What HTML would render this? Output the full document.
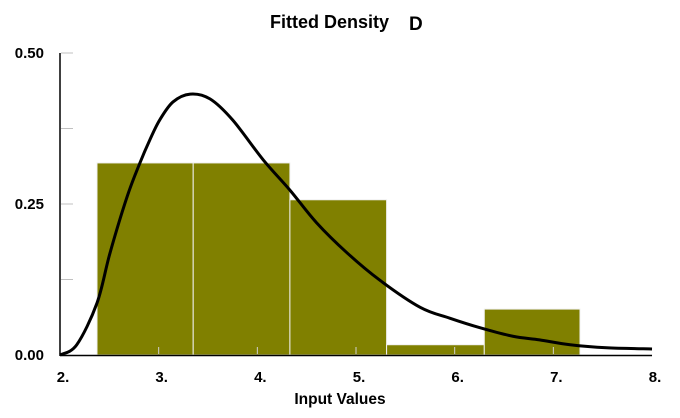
<!DOCTYPE html>
<html><head><meta charset="utf-8"><style>
body{margin:0;background:#fff;}
svg{display:block;font-family:"Liberation Sans",Arial,sans-serif;font-weight:bold;}
</style></head><body>
<svg id="chart" width="680" height="418" viewBox="0 0 680 418">
<text x="270" y="28" font-size="18">Fitted Density</text>
<text x="409" y="30" font-size="19">D</text>
<g id="bars"></g>
<g id="axes"></g>
<path id="curve" fill="none" stroke="#000" stroke-width="3" stroke-linejoin="round"></path>
<text x="340" y="404" text-anchor="middle" font-size="15.5">Input Values</text>
</svg>
<script>
const binEdges=[2.375,3.35,4.33,5.31,6.30,7.27];
const binValues=[0.318,0.318,0.257,0.017,0.076];
const curveX=[2.0,2.17,2.375,2.507,2.68,2.81,2.91,3.01,3.145,3.32,3.52,3.75,4.06,4.33,4.60,4.91,5.24,5.65,5.95,6.26,6.59,6.86,7.17,7.54,8.0];
const curveY=[0,0.017,0.086,0.169,0.262,0.318,0.356,0.389,0.419,0.432,0.424,0.389,0.323,0.273,0.219,0.169,0.124,0.079,0.061,0.045,0.031,0.025,0.017,0.012,0.010];
const xTicks=[2,3,4,5,6,7,8];
const xTickLabels=["2.","3.","4.","5.","6.","7.","8."];
const yTicks=[0,0.25,0.5];
const yTickLabels=["0.00","0.25","0.50"];
const yGridTicks=[0.125,0.25,0.375,0.5];
const NS="http://www.w3.org/2000/svg";
const sx=v=>60+(v-2)*98.67;
const sy=v=>355-v*604;
function mk(tag,attrs,parent){const e=document.createElementNS(NS,tag);for(const k in attrs)e.setAttribute(k,attrs[k]);parent.appendChild(e);return e;}
const bars=document.getElementById('bars');
binValues.forEach((v,i)=>{
 const r=mk('rect',{x:sx(binEdges[i]),y:sy(v),width:sx(binEdges[i+1])-sx(binEdges[i]),height:sy(0)-sy(v),fill:'#808000',stroke:'#f0f0f0','stroke-width':1},bars);
 
 
});
const ax=document.getElementById('axes');
yGridTicks.forEach(v=>mk('line',{x1:61,y1:sy(v),x2:73,y2:sy(v),stroke:'#c0c0c0'},ax));
xTicks.slice(1,-1).forEach(v=>mk('line',{x1:sx(v),y1:354,x2:sx(v),y2:347,stroke:'#d0d0d0'},ax));
const yl=mk('line',{x1:60,y1:sy(0.5),x2:60,y2:356,stroke:'#000','stroke-width':1.5},ax);


const xl=mk('line',{x1:60,y1:355.5,x2:sx(8),y2:355.5,stroke:'#000','stroke-width':1.5},ax);


yTicks.forEach((v,i)=>{
 const t=mk('text',{x:44,y:sy(v)+5,'text-anchor':'end','font-size':15},ax);
 t.textContent=yTickLabels[i];
 
 
});
xTicks.forEach((v,i)=>{
 const t=mk('text',{x:sx(v)+3,y:382,'text-anchor':'middle','font-size':15},ax);
 t.textContent=xTickLabels[i];
 
 
});
const P=curveX.map((x,i)=>[sx(x),sy(curveY[i])]);
let d='M'+P[0][0]+','+P[0][1];
for(let i=0;i<P.length-1;i++){
 const p0=P[Math.max(0,i-1)],p1=P[i],p2=P[i+1],p3=P[Math.min(P.length-1,i+2)];
 const c1=[p1[0]+(p2[0]-p0[0])/6,p1[1]+(p2[1]-p0[1])/6];
 const c2=[p2[0]-(p3[0]-p1[0])/6,p2[1]-(p3[1]-p1[1])/6];
 d+=' C'+c1+' '+c2+' '+p2;
}
document.getElementById('curve').setAttribute('d',d);
</script>
</body></html>
